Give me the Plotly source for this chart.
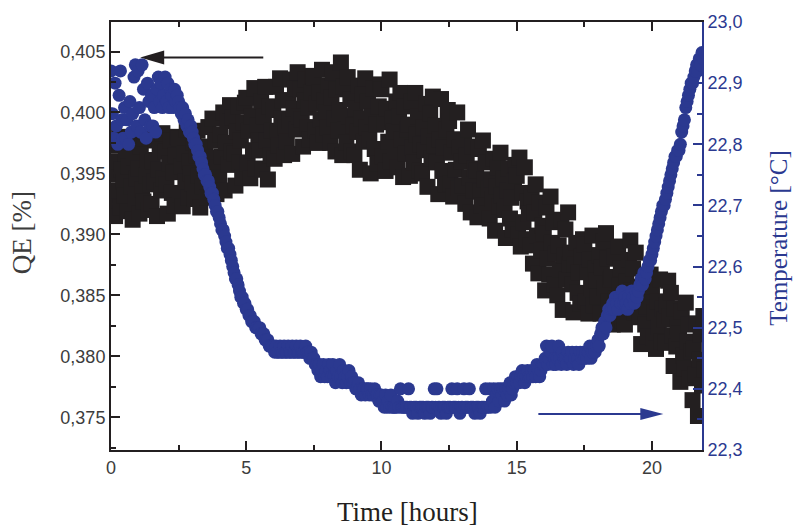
import plotly.graph_objects as go

# Readings are logged every 3 minutes (0.05 h); one row below = half an hour.
SAMPLE_STEP_H = 0.05

qe_percent = [
    0.3973, 0.3926, 0.3949, 0.3915, 0.3960, 0.3936, 0.3980, 0.3922, 0.3953, 0.3943,
    0.3932, 0.3966, 0.3919, 0.3956, 0.3977, 0.3939, 0.3912, 0.3963, 0.3929, 0.3946,
    0.3954, 0.3917, 0.3972, 0.3937, 0.3927, 0.3979, 0.3948, 0.3961, 0.3920, 0.3941,
    0.3925, 0.3960, 0.3943, 0.3977, 0.3915, 0.3953, 0.3970, 0.3936, 0.3983, 0.3946,
    0.3968, 0.3941, 0.3917, 0.3958, 0.3977, 0.3934, 0.3951, 0.3924, 0.3965, 0.3980,
    0.3979, 0.3933, 0.3956, 0.3923, 0.3966, 0.3943, 0.3986, 0.3930, 0.3960, 0.3950,
    0.3942, 0.3975, 0.3929, 0.3965, 0.3985, 0.3948, 0.3922, 0.3972, 0.3939, 0.3955,
    0.3970, 0.3930, 0.3988, 0.3952, 0.3941, 0.3995, 0.3963, 0.3977, 0.3933, 0.3955,
    0.3947, 0.3982, 0.3964, 0.4000, 0.3936, 0.3975, 0.3993, 0.3957, 0.4006, 0.3968,
    0.3996, 0.3966, 0.3940, 0.3984, 0.4005, 0.3959, 0.3977, 0.3947, 0.3992, 0.4008,
    0.4012, 0.3958, 0.3985, 0.3946, 0.3997, 0.3969, 0.4020, 0.3954, 0.3989, 0.3977,
    0.3969, 0.4009, 0.3953, 0.3997, 0.4021, 0.3977, 0.3945, 0.4005, 0.3965, 0.3985,
    0.4002, 0.3962, 0.4021, 0.3984, 0.3973, 0.4028, 0.3995, 0.4010, 0.3965, 0.3988,
    0.3976, 0.4010, 0.3993, 0.4027, 0.3966, 0.4003, 0.4020, 0.3986, 0.4033, 0.3997,
    0.4019, 0.3994, 0.3972, 0.4010, 0.4027, 0.3988, 0.4004, 0.3978, 0.4016, 0.4030,
    0.4029, 0.3985, 0.4007, 0.3975, 0.4016, 0.3994, 0.4035, 0.3982, 0.4010, 0.4000,
    0.3988, 0.4022, 0.3975, 0.4012, 0.4033, 0.3995, 0.3968, 0.4019, 0.3985, 0.4002,
    0.4041, 0.3965, 0.4021, 0.3986, 0.3975, 0.4029, 0.3997, 0.4011, 0.3968, 0.3989,
    0.3965, 0.4003, 0.3984, 0.4022, 0.3953, 0.3995, 0.4015, 0.3976, 0.4028, 0.3988,
    0.4009, 0.3978, 0.3950, 0.3997, 0.4020, 0.3970, 0.3990, 0.3958, 0.4005, 0.4023,
    0.4019, 0.3964, 0.3992, 0.3952, 0.4003, 0.3976, 0.4027, 0.3960, 0.3995, 0.3984,
    0.3970, 0.4009, 0.3955, 0.3997, 0.4016, 0.3978, 0.3947, 0.4005, 0.3966, 0.3986,
    0.3990, 0.3948, 0.4009, 0.3971, 0.3959, 0.4016, 0.3982, 0.3997, 0.3952, 0.3974,
    0.3950, 0.3988, 0.3969, 0.4007, 0.3939, 0.3980, 0.3999, 0.3962, 0.4013, 0.3973,
    0.3989, 0.3959, 0.3933, 0.3978, 0.4011, 0.3952, 0.3971, 0.3941, 0.3986, 0.4002,
    0.3993, 0.3942, 0.3967, 0.3931, 0.3978, 0.3953, 0.4000, 0.3938, 0.3971, 0.3960,
    0.3940, 0.3976, 0.3925, 0.3965, 0.3986, 0.3947, 0.3918, 0.3972, 0.3936, 0.3954,
    0.3952, 0.3914, 0.3970, 0.3935, 0.3924, 0.3977, 0.3945, 0.3959, 0.3917, 0.3938,
    0.3913, 0.3945, 0.3929, 0.3962, 0.3903, 0.3939, 0.3955, 0.3923, 0.3967, 0.3932,
    0.3946, 0.3920, 0.3897, 0.3936, 0.3954, 0.3913, 0.3930, 0.3904, 0.3943, 0.3957,
    0.3948, 0.3900, 0.3963, 0.3890, 0.3934, 0.3910, 0.3955, 0.3896, 0.3927, 0.3917,
    0.3891, 0.3930, 0.3876, 0.3918, 0.3941, 0.3899, 0.3868, 0.3926, 0.3887, 0.3907,
    0.3901, 0.3854, 0.3922, 0.3880, 0.3867, 0.3931, 0.3893, 0.3910, 0.3859, 0.3884,
    0.3850, 0.3891, 0.3871, 0.3912, 0.3838, 0.3883, 0.3904, 0.3863, 0.3918, 0.3875,
    0.3885, 0.3859, 0.3836, 0.3875, 0.3893, 0.3852, 0.3869, 0.3843, 0.3882, 0.3896,
    0.3892, 0.3845, 0.3869, 0.3835, 0.3879, 0.3856, 0.3899, 0.3842, 0.3872, 0.3862,
    0.3849, 0.3883, 0.3835, 0.3873, 0.3894, 0.3856, 0.3901, 0.3880, 0.3845, 0.3863,
    0.3865, 0.3826, 0.3882, 0.3847, 0.3836, 0.3890, 0.3858, 0.3872, 0.3829, 0.3850,
    0.3826, 0.3861, 0.3843, 0.3879, 0.3895, 0.3854, 0.3872, 0.3836, 0.3885, 0.3847,
    0.3857, 0.3832, 0.3810, 0.3847, 0.3865, 0.3826, 0.3841, 0.3816, 0.3853, 0.3867,
    0.3857, 0.3815, 0.3836, 0.3806, 0.3845, 0.3824, 0.3863, 0.3812, 0.3839, 0.3830,
    0.3811, 0.3842, 0.3862, 0.3833, 0.3852, 0.3817, 0.3792, 0.3839, 0.3808, 0.3824,
    0.3819, 0.3779, 0.3837, 0.3801, 0.3790, 0.3844, 0.3812, 0.3826, 0.3782, 0.3804,
    0.3764, 0.3806, 0.3785, 0.3827, 0.3751, 0.3797, 0.3818, 0.3776, 0.3833, 0.3789,
]

temperature_c = [
    22.92, 22.85, 22.81, 22.90, 22.83, 22.80, 22.88, 22.92, 22.84, 22.81,
    22.86, 22.81, 22.84, 22.80, 22.87, 22.82, 22.85, 22.91, 22.93, 22.83,
    22.92, 22.86, 22.82, 22.93, 22.89, 22.84, 22.81, 22.90, 22.87, 22.83,
    22.88, 22.83, 22.86, 22.82, 22.89, 22.91, 22.87, 22.90, 22.86, 22.88,
    22.91, 22.87, 22.90, 22.86, 22.89, 22.88, 22.86, 22.89, 22.87, 22.88,
    22.87, 22.86, 22.85, 22.86, 22.84, 22.85, 22.83, 22.84, 22.82, 22.83,
    22.82, 22.81, 22.80, 22.80, 22.79, 22.78, 22.78, 22.77, 22.76, 22.75,
    22.75, 22.74, 22.74, 22.73, 22.72, 22.72, 22.71, 22.70, 22.69, 22.69,
    22.68, 22.67, 22.66, 22.66, 22.65, 22.64, 22.63, 22.63, 22.62, 22.61,
    22.60, 22.59, 22.58, 22.58, 22.57, 22.56, 22.55, 22.55, 22.54, 22.54,
    22.53, 22.53, 22.52, 22.52, 22.51, 22.51, 22.51, 22.50, 22.50, 22.50,
    22.50, 22.49, 22.49, 22.49, 22.48, 22.48, 22.48, 22.47, 22.47, 22.47,
    22.47, 22.46, 22.47, 22.46, 22.46, 22.47, 22.46, 22.46, 22.47, 22.46,
    22.46, 22.47, 22.46, 22.46, 22.47, 22.46, 22.46, 22.47, 22.46, 22.46,
    22.47, 22.46, 22.46, 22.46, 22.47, 22.46, 22.46, 22.45, 22.46, 22.45,
    22.45, 22.44, 22.44, 22.43, 22.44, 22.42, 22.43, 22.44, 22.42, 22.43,
    22.42, 22.44, 22.43, 22.42, 22.44, 22.42, 22.41, 22.43, 22.42, 22.44,
    22.42, 22.41, 22.43, 22.42, 22.41, 22.42, 22.43, 22.41, 22.42, 22.41,
    22.41, 22.40, 22.40, 22.41, 22.40, 22.39, 22.40, 22.40, 22.39, 22.40,
    22.40, 22.39, 22.40, 22.39, 22.39, 22.40, 22.39, 22.39, 22.38, 22.39,
    22.39, 22.38, 22.37, 22.39, 22.37, 22.38, 22.37, 22.39, 22.37, 22.37,
    22.37, 22.37, 22.38, 22.37, 22.40, 22.37, 22.37, 22.37, 22.37, 22.37,
    22.40, 22.37, 22.37, 22.36, 22.37, 22.37, 22.37, 22.36, 22.37, 22.37,
    22.37, 22.37, 22.36, 22.37, 22.37, 22.37, 22.36, 22.37, 22.37, 22.40,
    22.37, 22.40, 22.37, 22.37, 22.36, 22.37, 22.37, 22.37, 22.36, 22.37,
    22.37, 22.37, 22.40, 22.37, 22.37, 22.37, 22.40, 22.37, 22.36, 22.37,
    22.37, 22.40, 22.37, 22.37, 22.37, 22.40, 22.37, 22.37, 22.37, 22.36,
    22.37, 22.37, 22.37, 22.36, 22.37, 22.37, 22.37, 22.40, 22.37, 22.37,
    22.40, 22.37, 22.38, 22.40, 22.37, 22.39, 22.40, 22.38, 22.40, 22.39,
    22.40, 22.38, 22.40, 22.39, 22.40, 22.41, 22.39, 22.40, 22.41, 22.42,
    22.41, 22.42, 22.41, 22.42, 22.43, 22.42, 22.41, 22.42, 22.43, 22.42,
    22.42, 22.43, 22.42, 22.43, 22.42, 22.44, 22.43, 22.42, 22.43, 22.44,
    22.44, 22.45, 22.47, 22.44, 22.45, 22.46, 22.47, 22.44, 22.45, 22.44,
    22.45, 22.47, 22.45, 22.44, 22.46, 22.45, 22.45, 22.44, 22.46, 22.45,
    22.45, 22.46, 22.44, 22.45, 22.46, 22.45, 22.44, 22.46, 22.45, 22.46,
    22.45, 22.46, 22.45, 22.46, 22.47, 22.45, 22.46, 22.47, 22.46, 22.47,
    22.48, 22.47, 22.49, 22.50, 22.49, 22.51, 22.50, 22.52, 22.53, 22.52,
    22.53, 22.54, 22.53, 22.55, 22.54, 22.53, 22.55, 22.54, 22.56, 22.54,
    22.55, 22.54, 22.53, 22.55, 22.54, 22.56, 22.55, 22.54, 22.56, 22.55,
    22.56, 22.57, 22.58, 22.57, 22.59, 22.58, 22.59, 22.60, 22.61, 22.61,
    22.62, 22.63, 22.64, 22.65, 22.66, 22.67, 22.68, 22.69, 22.70, 22.70,
    22.71, 22.72, 22.73, 22.74, 22.75, 22.76, 22.77, 22.78, 22.78, 22.79,
    22.79, 22.80, 22.82, 22.83, 22.84, 22.86, 22.87, 22.88, 22.89, 22.90,
    22.90, 22.91, 22.92, 22.93, 22.92, 22.94, 22.93, 22.95, 22.94, 22.95,
]

time_qe_h = [round(i * SAMPLE_STEP_H, 2) for i in range(len(qe_percent))]
time_temp_h = [round(i * SAMPLE_STEP_H, 2) for i in range(len(temperature_c))]

time_ticks = [0, 5, 10, 15, 20]
qe_ticks = [0.375, 0.380, 0.385, 0.390, 0.395, 0.400, 0.405]
temp_ticks = [22.3, 22.4, 22.5, 22.6, 22.7, 22.8, 22.9, 23.0]

BLACK = "#231f20"
BLUE = "#2b3990"
TICK_FONT = dict(family="Arial, Liberation Sans, sans-serif", size=18, color="#3c3c3c")
TITLE_FONT = "Times New Roman, Liberation Serif, serif"

fig = go.Figure()

fig.add_trace(go.Scatter(
    x=time_qe_h, y=qe_percent, mode="markers", name="QE",
    marker=dict(symbol="square", size=16, color=BLACK, line=dict(width=0)),
    yaxis="y",
))
fig.add_trace(go.Scatter(
    x=time_temp_h, y=temperature_c, mode="markers", name="Temperature",
    marker=dict(symbol="circle", size=13, color=BLUE, line=dict(width=0)),
    yaxis="y2",
))

fig.update_layout(
    width=795, height=526,
    margin=dict(l=111, r=93, t=19, b=76),
    paper_bgcolor="white", plot_bgcolor="white",
    separators=",.",
    showlegend=False,
    xaxis=dict(
        range=[0, 21.85], tickmode="array", tickvals=time_ticks,
        ticks="inside", ticklen=9, tickwidth=2, tickcolor=BLACK,
        showline=True, linewidth=2, linecolor=BLACK, mirror="ticks",
        showgrid=False, zeroline=False, tickfont=TICK_FONT,
        minor=dict(dtick=2.5, tick0=0, ticks="inside", ticklen=5,
                   tickwidth=2, tickcolor=BLACK, showgrid=False),
    ),
    yaxis=dict(
        range=[0.37231, 0.40742], tickmode="array", tickvals=qe_ticks,
        tickformat=".3f",
        ticks="inside", ticklen=9, tickwidth=2, tickcolor=BLACK,
        showline=True, linewidth=2, linecolor=BLACK,
        showgrid=False, zeroline=False, tickfont=TICK_FONT,
        minor=dict(dtick=0.0025, tick0=0.375, ticks="inside", ticklen=5,
                   tickwidth=2, tickcolor=BLACK, showgrid=False),
    ),
    yaxis2=dict(
        overlaying="y", side="right",
        range=[22.3, 23.0], tickmode="array", tickvals=temp_ticks,
        tickformat=".1f",
        ticks="inside", ticklen=9, tickwidth=2, tickcolor=BLUE,
        showline=True, linewidth=2, linecolor=BLUE,
        showgrid=False, zeroline=False,
        tickfont=dict(family=TICK_FONT["family"], size=18, color=BLUE),
        minor=dict(dtick=0.05, tick0=22.3, ticks="inside", ticklen=5,
                   tickwidth=2, tickcolor=BLUE, showgrid=False),
    ),
)

# Axis titles
fig.add_annotation(text="Time [hours]", xref="paper", yref="paper",
                   x=0.5025, y=-0.144, xanchor="center", yanchor="middle",
                   showarrow=False,
                   font=dict(family=TITLE_FONT, size=27, color=BLACK))
fig.add_annotation(text="QE [%]", xref="paper", yref="paper",
                   x=-0.151, y=0.508, xanchor="center", yanchor="middle",
                   textangle=-90, showarrow=False,
                   font=dict(family=TITLE_FONT, size=27, color="#3c3c3c"))
fig.add_annotation(text="Temperature [°C]", xref="paper", yref="paper",
                   x=1.129, y=0.4965, xanchor="center", yanchor="middle",
                   textangle=-90, showarrow=False,
                   font=dict(family=TITLE_FONT, size=25, color=BLUE))

# Arrows pointing each series to its own axis
qe_arrow = dict(tail=5.63, head_base=1.9, tip=1.08, level=0.40451)
temp_arrow = dict(tail=15.8, head_base=19.6, tip=20.42, level=22.359)

fig.add_shape(type="line", xref="x", yref="y",
              x0=qe_arrow["tail"], x1=qe_arrow["head_base"],
              y0=qe_arrow["level"], y1=qe_arrow["level"],
              line=dict(color=BLACK, width=2))
fig.add_shape(type="path", xref="x", yref="y",
              xsizemode="pixel", ysizemode="pixel",
              xanchor=qe_arrow["tip"], yanchor=qe_arrow["level"],
              path="M0,0 L24,7 L24,-7 Z", fillcolor=BLACK, line=dict(width=0))

fig.add_shape(type="line", xref="x", yref="y2",
              x0=temp_arrow["tail"], x1=temp_arrow["head_base"],
              y0=temp_arrow["level"], y1=temp_arrow["level"],
              line=dict(color=BLUE, width=2))
fig.add_shape(type="path", xref="x", yref="y2",
              xsizemode="pixel", ysizemode="pixel",
              xanchor=temp_arrow["tip"], yanchor=temp_arrow["level"],
              path="M0,0 L-23,6 L-23,-6 Z", fillcolor=BLUE, line=dict(width=0))

fig.write_html("out.html")
